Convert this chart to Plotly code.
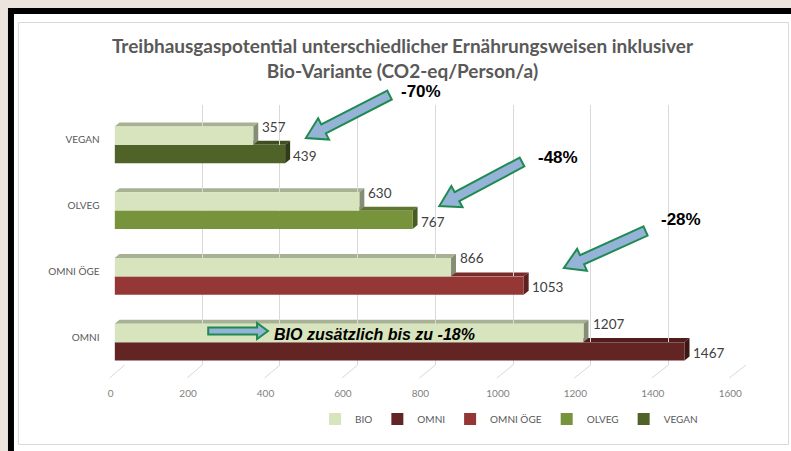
import plotly.graph_objects as go

# ---------------- data ----------------
categories = ["OMNI", "OMNI ÖGE", "OLVEG", "VEGAN"]          # bottom -> top
bio_values = [1207, 866, 630, 357]
conv_values = [1467, 1053, 767, 439]
series_colors = {"OMNI": "#632523", "OMNI ÖGE": "#953735",
                 "OLVEG": "#77933c", "VEGAN": "#4f6228"}
bio_color = "#d7e4bd"
x_ticks = [0, 200, 400, 600, 800, 1000, 1200, 1400, 1600]
reduction_labels = ["-70%", "-48%", "-28%"]
bio_note = "BIO zusätzlich bis zu -18%"
title_lines = ["Treibhausgaspotential unterschiedlicher Ernährungsweisen inklusiver",
               "Bio-Variante (CO2-eq/Person/a)"]

W, H = 791, 451          # design grid (reference pixels)
FIG_W, FIG_H = 803, 451  # figure size


def px(x):
    return x / W


def py(y):
    return 1 - y / H


def shade(hexcol, f):
    r, g, b = (int(hexcol[i:i + 2], 16) for i in (1, 3, 5))
    return "#%02x%02x%02x" % (int(r * f), int(g * f), int(b * f))


# axis geometry (pixels)
BAR_X = (112, 736)
BAR_Y = (112, 375)
GRID_X = (122, 746)
GRID_Y = (105, 365)
LAB_X = (108, 730)
XMAX = 1600
BARGAP = 0.44

fig = go.Figure()

# invisible traces so the grid / label axes exist
fig.add_trace(go.Scatter(x=[None], y=[None], xaxis="x", yaxis="y",
                         showlegend=False, hoverinfo="skip"))
fig.add_trace(go.Scatter(x=[None], y=[None], xaxis="x3", yaxis="y",
                         showlegend=False, hoverinfo="skip"))

# conventional diets (one per category, sharing one offset group)
for i, cat in enumerate(categories):
    fig.add_trace(go.Bar(
        y=[cat], x=[conv_values[i]], orientation="h", name=cat,
        marker=dict(color=series_colors[cat], line=dict(width=0)),
        offsetgroup="conv", xaxis="x2", yaxis="y2",
        legendrank=2 + i, hoverinfo="x+name"))

fig.add_trace(go.Bar(
    y=categories, x=bio_values, orientation="h", name="BIO",
    marker=dict(color=bio_color, line=dict(width=0)),
    offsetgroup="bio", xaxis="x2", yaxis="y2",
    legendrank=1, hoverinfo="x+name"))

# value labels
annotations = []
for i, cat in enumerate(categories):
    annotations.append(dict(x=bio_values[i], y=cat, xref="x2", yref="y2",
                            text=str(bio_values[i]), showarrow=False,
                            xanchor="left", yanchor="middle", xshift=7, yshift=18,
                            font=dict(family="Lato", size=13.5, color="#404040")))
    annotations.append(dict(x=conv_values[i], y=cat, xref="x2", yref="y2",
                            text=str(conv_values[i]), showarrow=False,
                            xanchor="left", yanchor="middle", xshift=6, yshift=-11,
                            font=dict(family="Lato", size=13.5, color="#404040")))

# reduction percentages
pct_pos = [(420, 91), (557, 157), (681, 219)]
for (x, y), t in zip(pct_pos, reduction_labels):
    annotations.append(dict(x=px(x), y=py(y), xref="paper", yref="paper", text=f"<b>{t}</b>",
                            showarrow=False, xanchor="center", yanchor="middle",
                            font=dict(family="Liberation Sans Narrow, Arial Narrow, Liberation Sans",
                                      size=17, color="#000000")))
annotations.append(dict(x=px(270), y=py(334), xref="paper", yref="paper",
                        text=f"<b><i>{bio_note}</i></b>", showarrow=False,
                        xanchor="left", yanchor="middle",
                        font=dict(family="Liberation Sans Narrow, Arial Narrow, Liberation Sans",
                                  size=16, color="#000000")))


def poly(pts):
    return "M " + " L ".join(f"{px(x):.5f},{py(y):.5f}" for x, y in pts) + " Z"


def arrow_path(tail, tip, sw, hw, hl):
    import math
    tx, ty = tail
    hx, hy = tip
    L = math.hypot(hx - tx, hy - ty)
    ux, uy = (hx - tx) / L, (hy - ty) / L
    nx, ny = -uy, ux
    bx, by = hx - ux * hl, hy - uy * hl
    pts = [(tx + nx * sw / 2, ty + ny * sw / 2), (bx + nx * sw / 2, by + ny * sw / 2),
           (bx + nx * hw / 2, by + ny * hw / 2), (hx, hy),
           (bx - nx * hw / 2, by - ny * hw / 2), (bx - nx * sw / 2, by - ny * sw / 2),
           (tx - nx * sw / 2, ty - ny * sw / 2)]
    return poly(pts)


shapes = []
# page background / frame
shapes.append(dict(type="rect", xref="paper", yref="paper", x0=px(5), x1=1.01, y0=-0.01, y1=py(8),
                   fillcolor="#000000", line=dict(width=0), layer="below"))
shapes.append(dict(type="rect", xref="paper", yref="paper", x0=px(11), x1=1.01, y0=-0.01, y1=py(14),
                   fillcolor="#ffffff", line=dict(width=0), layer="below"))
shapes.append(dict(type="rect", xref="paper", yref="paper", x0=px(15.5), x1=px(788.5),
                   y0=py(444.5), y1=py(22.5), fillcolor="rgba(0,0,0,0)",
                   line=dict(color="#d9d9d9", width=1), layer="below"))

# slanted floor lines of 3-D grid
for v in x_ticks:
    gx = GRID_X[0] + v * (GRID_X[1] - GRID_X[0]) / XMAX
    lx = LAB_X[0] + v * (LAB_X[1] - LAB_X[0]) / XMAX
    shapes.append(dict(type="line", xref="paper", yref="paper",
                       x0=px(gx), y0=py(GRID_Y[1]), x1=px(lx - 1), y1=py(378),
                       line=dict(color="#d9d9d9", width=1), layer="below"))

# 3-D top / side faces of the bars (derived from bar values and axis geometry)
slot = (BAR_Y[1] - BAR_Y[0]) / len(categories)
bar_h = slot * (1 - BARGAP) / 2
sx = (BAR_X[1] - BAR_X[0]) / XMAX
DX, DY = 5, 4
for i, cat in enumerate(categories):
    yc = BAR_Y[1] - (i + 0.5) * slot
    for val, col, ytop in [(conv_values[i], series_colors[cat], yc),
                           (bio_values[i], bio_color, yc - bar_h)]:
        x0 = BAR_X[0]
        xe = BAR_X[0] + val * sx
        ybot = ytop + bar_h
        top = [(x0, ytop), (x0 + DX, ytop - DY), (xe + DX, ytop - DY), (xe, ytop)]
        side = [(xe, ytop), (xe + DX, ytop - DY), (xe + DX, ybot - DY), (xe, ybot)]
        tf = 0.8 if col != bio_color else 0.78
        shapes.append(dict(type="path", xref="paper", yref="paper", path=poly(top),
                           fillcolor=shade(col, tf), line=dict(width=0), layer="below"))
        shapes.append(dict(type="path", xref="paper", yref="paper", path=poly(side),
                           fillcolor=shade(col, 0.62), line=dict(width=0), layer="below"))

# callout arrows
arrow_style = dict(type="path", xref="paper", yref="paper", fillcolor="#95b3d7",
                   line=dict(color="#1f8a52", width=2), layer="above")
for tail, tip in [((388, 95), (304, 138)), ((521, 162), (438, 206)), ((645, 231), (563, 268))]:
    shapes.append(dict(path=arrow_path(tail, tip, 10, 24, 20), **arrow_style))
shapes.append(dict(path=arrow_path((206, 331), (266, 331), 7, 16, 11), **arrow_style))

fig.update_layout(
    width=FIG_W, height=FIG_H,
    margin=dict(l=0, r=0, t=0, b=0),
    paper_bgcolor="#ede4dd",
    plot_bgcolor="rgba(0,0,0,0)",
    title=dict(text="<br>".join(title_lines), x=px(401), xanchor="center",
               xref="paper", yref="container", y=py(53), yanchor="top",
               font=dict(family="Lato", size=19, color="#595959", weight="bold")),
    barmode="group", bargap=BARGAP, bargroupgap=0,
    showlegend=True,
    legend=dict(orientation="h", x=px(508), y=py(419), xanchor="center", yanchor="middle",
                bgcolor="rgba(0,0,0,0)", font=dict(family="Lato", size=10, color="#595959"),
                itemwidth=30, traceorder="normal"),
    xaxis=dict(domain=[px(GRID_X[0]), px(GRID_X[1])], range=[0, XMAX], anchor="y",
               tickvals=x_ticks, showticklabels=False, showgrid=True, gridcolor="#d9d9d9",
               gridwidth=1, zeroline=False, showline=False, ticks=""),
    yaxis=dict(domain=[py(GRID_Y[1]), py(GRID_Y[0])], range=[0, 1], anchor="x",
               showticklabels=False, showgrid=False, zeroline=False, showline=False),
    xaxis3=dict(domain=[px(LAB_X[0]), px(LAB_X[1])], range=[0, XMAX], anchor="free",
                position=py(386), tickvals=x_ticks, showgrid=False, zeroline=False,
                showline=False, ticks="", tickfont=dict(family="Lato", size=10, color="#7f7f7f")),
    xaxis2=dict(domain=[px(BAR_X[0]), px(BAR_X[1])], range=[0, XMAX], anchor="y2",
                showticklabels=False, showgrid=False, zeroline=False, showline=False),
    yaxis2=dict(domain=[py(BAR_Y[1]), py(BAR_Y[0])], anchor="x2", type="category",
                categoryorder="array", categoryarray=categories,
                showgrid=False, zeroline=False, showline=False, ticks="",
                ticklabelstandoff=14, ticklabelshift=-5,
                tickfont=dict(family="Lato", size=10, color="#595959")),
    annotations=annotations,
    shapes=shapes,
)

post = (
    "var s='margin:0;padding:0;overflow:hidden;background:#ede4dd;';"
    "document.documentElement.style.cssText=s;"
    "document.body.style.cssText=s;"
)

fig.write_html("out.html", config={"displayModeBar": False}, post_script=post)
